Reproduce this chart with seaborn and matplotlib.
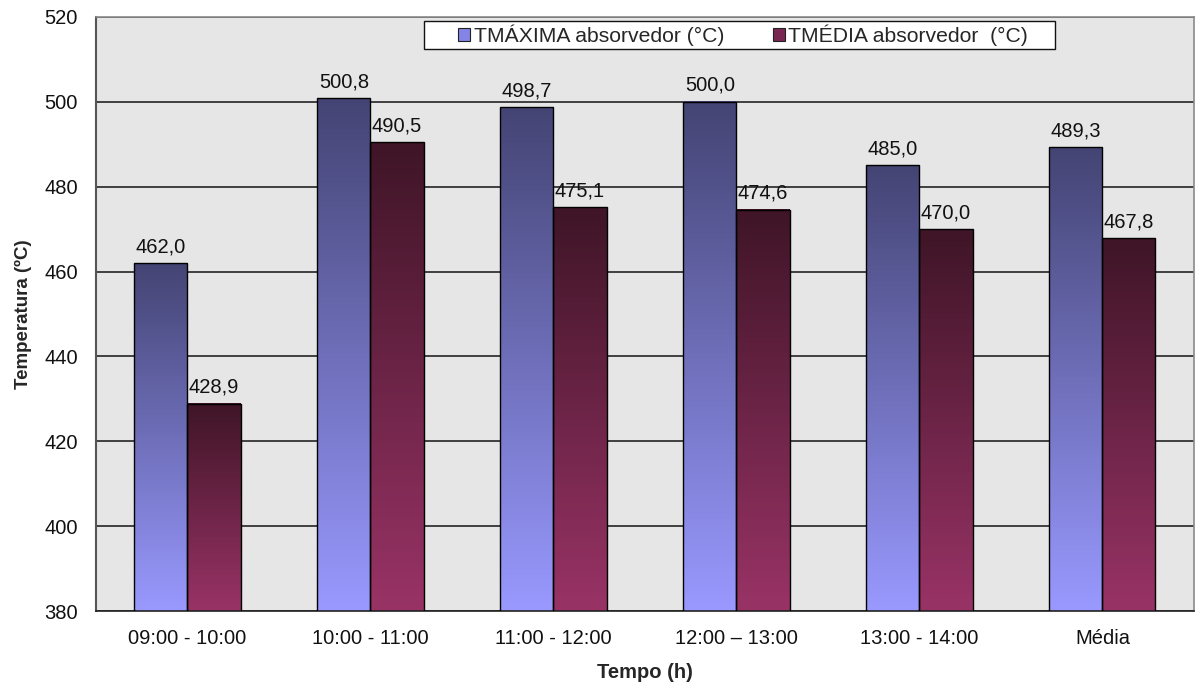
import numpy as np
import pandas as pd
import matplotlib
matplotlib.use("Agg")
import matplotlib.pyplot as plt
from matplotlib.colors import LinearSegmentedColormap
from matplotlib.patches import Patch, Rectangle
import seaborn as sns

# Data
periodos = ["09:00 - 10:00", "10:00 - 11:00", "11:00 - 12:00",
            "12:00 \u2013 13:00", "13:00 - 14:00", "Média"]
series = ["TMÁXIMA absorvedor (°C)", "TMÉDIA absorvedor  (°C)"]
t_maxima = [462.0, 500.8, 498.7, 500.0, 485.0, 489.3]
t_media = [428.9, 490.5, 475.1, 474.6, 470.0, 467.8]
y_ticks = [380, 400, 420, 440, 460, 480, 500, 520]

df = pd.DataFrame({
    "periodo": periodos * 2,
    "serie": [series[0]] * len(periodos) + [series[1]] * len(periodos),
    "temp": t_maxima + t_media,
})

sns.set_theme(style="white")
plt.rcParams["font.family"] = ["Liberation Sans", "DejaVu Sans"]

# gradient colour ramps (top of bar -> bottom of bar)
ramps = [
    ("#444474", "#9999FF"),
    ("#3F1527", "#993366"),
]
legend_colors = ["#8484E6", "#7A2652"]

W, H = 1195, 686
fig = plt.figure(figsize=(W / 100, H / 100), dpi=100)
ax = fig.add_axes([0.0803, 0.1093, 0.9188, 0.866])
ax.set_facecolor("#E6E6E6")

sns.barplot(data=df, x="periodo", y="temp", hue="serie", order=periodos,
            hue_order=series, palette=legend_colors, width=0.58,
            edgecolor="black", linewidth=1.0, ax=ax, legend=False,
            zorder=3)

ymin, ymax = y_ticks[0], y_ticks[-1]

# vertical gradient fill for every bar
grad = np.linspace(0, 1, 256).reshape(-1, 1)
for container, (top, bottom) in zip(ax.containers, ramps):
    cmap = LinearSegmentedColormap.from_list("g", [top, bottom])
    for bar in container:
        x0 = bar.get_x()
        w = bar.get_width()
        h = bar.get_y() + bar.get_height()
        ax.imshow(grad, cmap=cmap, aspect="auto", origin="upper",
                  extent=[x0, x0 + w, ymin, h], zorder=2.5,
                  interpolation="bilinear")
        bar.set_facecolor("none")
    labels = [f"{b.get_height():.1f}".replace(".", ",") for b in container]
    ax.bar_label(container, labels=labels, padding=5, fontsize=14.5,
                 color="#111111", zorder=4)
ax.set_xlim(-0.5, len(periodos) - 0.5)
ax.set_ylim(ymin, ymax)

# axes styling
ax.set_yticks(y_ticks)
ax.yaxis.grid(True, color="#333333", linewidth=1.3, zorder=1)
ax.xaxis.grid(False)
ax.set_axisbelow(True)

ax.set_xticks(range(len(periodos)))
ax.set_xticklabels(periodos)
ax.set_xticks(np.arange(-0.5, len(periodos), 1.0), minor=True)
ax.tick_params(axis="x", which="major", length=0, pad=13,
               labelsize=14.5, labelcolor="#111111")
ax.tick_params(axis="x", which="minor", length=6, width=1.2,
               color="#333333", direction="out")
ax.tick_params(axis="y", length=6, width=1.2, color="#333333",
               direction="out", pad=7, labelsize=14.5, labelcolor="#111111")

for side in ["top", "right"]:
    ax.spines[side].set_color("#8A8A8A")
    ax.spines[side].set_linewidth(1.2)
ax.spines["left"].set_color("#555555")
ax.spines["left"].set_linewidth(1.5)
ax.spines["bottom"].set_color("#222222")
ax.spines["bottom"].set_linewidth(1.2)

ax.set_xlabel("Tempo (h)", fontsize=14.5, fontweight="bold", labelpad=11)
ax.set_ylabel("Temperatura (ºC)", fontsize=13.5, fontweight="bold",
              labelpad=9)

# legend: entries without frame, plus a wide white box behind them
box = Rectangle((424 / W, 1 - 49 / H), (1055 - 424) / W, 28 / H,
                transform=fig.transFigure, facecolor="white",
                edgecolor="#111111", linewidth=1.0, zorder=4)
fig.add_artist(box)

handles = [Patch(facecolor=c, edgecolor="#222222", linewidth=0.8)
           for c in legend_colors]
leg = fig.legend(handles, series, loc="center",
                 bbox_to_anchor=(743 / W, 1 - 35 / H),
                 ncol=2, frameon=False, fontsize=15.2,
                 handlelength=0.6, handleheight=0.6, handletextpad=0.15,
                 columnspacing=2.3, borderpad=0.0)
leg.set_zorder(5)

fig.savefig("out.png", dpi=100, facecolor="white")
